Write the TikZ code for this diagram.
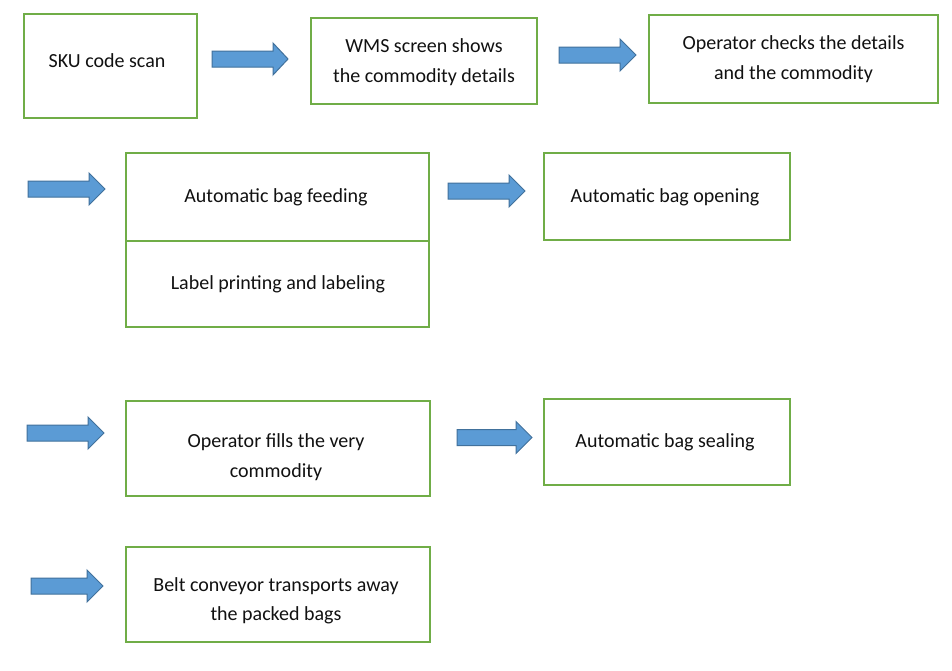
\documentclass[tikz,border=0pt]{standalone}
\usepackage{fontspec}
\setmainfont{Carlito}
\definecolor{boxgreen}{HTML}{70AD47}
\definecolor{arrfill}{HTML}{5B9BD5}
\definecolor{arrline}{HTML}{41719C}
\definecolor{txt}{HTML}{111111}
\newcommand{\blockarrow}[4]{%
  \draw[blockarr] (#1,#2-8) -- (#3,#2-8) -- (#3,#2-16) -- (#4,#2) -- (#3,#2+16) -- (#3,#2+8) -- (#1,#2+8) -- cycle;}
\begin{document}
\begin{tikzpicture}[x=1pt,y=-1pt,
  boxstyle/.style={draw=boxgreen, line width=2pt, inner sep=0pt},
  blockarr/.style={fill=arrfill, draw=arrline, line width=1pt, line join=miter},
  label/.style={font=\fontsize{20}{29.5}\selectfont, text=txt, align=center, inner sep=0pt, anchor=center}]
\useasboundingbox[fill=white] (0,0) rectangle (952,670);
% boxes
\node[boxstyle, minimum width=173pt, minimum height=104pt] (b1) at (110.5,66) {};
\node[boxstyle, minimum width=226pt, minimum height=86pt] (b2) at (424,61) {};
\node[boxstyle, minimum width=289pt, minimum height=88pt] (b3) at (793.5,59) {};
\node[boxstyle, minimum width=303pt, minimum height=174pt] (b4) at (277.5,240) {};
\draw[boxgreen, line width=2pt] (b4.west |- 0,241) -- (b4.east |- 0,241);
\node[boxstyle, minimum width=246pt, minimum height=87pt] (b5) at (667,196.5) {};
\node[boxstyle, minimum width=304pt, minimum height=95pt] (b6) at (278,448.5) {};
\node[boxstyle, minimum width=246pt, minimum height=86pt] (b7) at (667,442) {};
\node[boxstyle, minimum width=304pt, minimum height=95pt] (b8) at (278,594.5) {};
% texts
\node[label] (t1) at (107,61) {SKU code scan};
\node[label] (t2) at (424,62) {WMS screen shows\\the commodity details};
\node[label] (t3) at (793.5,59) {Operator checks the details\\and the commodity};
\node[label] (t4a) at (276,197) {Automatic bag feeding};
\node[label] (t4b) at (278,284) {Label printing and labeling};
\node[label] (t5) at (665,197) {Automatic bag opening};
\node[label] (t6) at (276,457) {Operator fills the very\\commodity};
\node[label] (t7) at (665,442) {Automatic bag sealing};
\node[label] (t8) at (276,601) {Belt conveyor transports away\\the packed bags};
% arrows
\blockarrow{212}{59}{273}{288}
\blockarrow{559}{55}{620}{636}
\blockarrow{28}{189}{89}{105}
\blockarrow{448}{191}{509}{525}
\blockarrow{27}{433}{88}{104}
\blockarrow{457}{437.5}{516}{532}
\blockarrow{31}{586}{87}{103}
\end{tikzpicture}
\end{document}
